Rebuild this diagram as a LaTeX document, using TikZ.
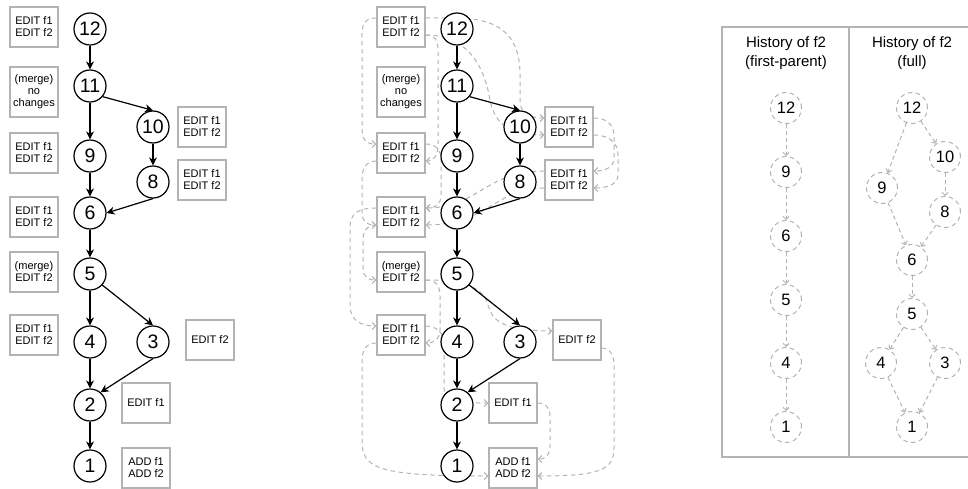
\documentclass[tikz,border=0pt]{standalone}
\usepackage{fontspec}
\setmainfont{Liberation Sans}
\usetikzlibrary{arrows.meta,backgrounds}
\definecolor{lgray}{HTML}{B3B3B3}
\newcommand{\commitgraph}[2]{%
 \begin{scope}[xshift=#2pt]
  \node[commit] (#1n12) at (90,29) {12};
  \node[commit] (#1n11) at (90,86) {11};
  \node[commit] (#1n10) at (153,127) {10};
  \node[commit] (#1n9) at (90,156) {9};
  \node[commit] (#1n8) at (153,182) {8};
  \node[commit] (#1n6) at (90,213) {6};
  \node[commit] (#1n5) at (90,274) {5};
  \node[commit] (#1n4) at (90,342) {4};
  \node[commit] (#1n3) at (153,342) {3};
  \node[commit] (#1n2) at (90,405) {2};
  \node[commit] (#1n1) at (90,466) {1};
  \node[info] (#1b12) at (34,27) {EDIT f1\\EDIT f2};
  \node[info,minimum height=50pt] (#1b11) at (34,92) {(merge)\\no\\changes};
  \node[info] (#1b10) at (202,127) {EDIT f1\\EDIT f2};
  \node[info] (#1b9) at (34,153) {EDIT f1\\EDIT f2};
  \node[info] (#1b8) at (202,180) {EDIT f1\\EDIT f2};
  \node[info] (#1b6) at (34,217) {EDIT f1\\EDIT f2};
  \node[info] (#1b5) at (34,272) {(merge)\\EDIT f2};
  \node[info] (#1b4) at (34,335) {EDIT f1\\EDIT f2};
  \node[info] (#1b3) at (210,340) {EDIT f2};
  \node[info] (#1b2) at (146,403) {EDIT f1};
  \node[info] (#1b1) at (146,468) {ADD f1\\ADD f2};
  \draw[flow] (#1n12) -- (#1n11);
  \draw[flow] (#1n11) -- (#1n9);
  \draw[flow] (#1n11.-40) -- (#1n10.north);
  \draw[flow] (#1n10) -- (#1n8);
  \draw[flow] (#1n9) -- (#1n6);
  \draw[flow] (#1n8.south) -- (#1n6.east);
  \draw[flow] (#1n6) -- (#1n5);
  \draw[flow] (#1n5) -- (#1n4);
  \draw[flow] (#1n5.-42) -- (#1n3.north);
  \draw[flow] (#1n4) -- (#1n2);
  \draw[flow] (#1n3.south) -- (#1n2.50);
  \draw[flow] (#1n2) -- (#1n1);
 \end{scope}}
\begin{document}
\begin{tikzpicture}[x=1pt,y=-1pt,
  commit/.style={circle,draw=black,line width=1.2pt,fill=white,minimum size=32pt,inner sep=0pt,font=\fontsize{19.5}{19.5}\selectfont},
  info/.style={draw=lgray,line width=1.3pt,fill=white,minimum width=48pt,minimum height=40pt,inner sep=0pt,align=center,font=\fontsize{11}{12}\selectfont},
  flow/.style={-{Stealth[length=8pt,width=8pt,inset=2.5pt]},line width=1.2pt},
  link/.style={draw=lgray,dash pattern=on 4.5pt off 3.5pt,line width=1pt,-{Straight Barb[length=3.5pt,width=7pt]}},
  hist/.style={circle,draw=lgray,dash pattern=on 4.5pt off 3.5pt,line width=1pt,fill=white,minimum size=31pt,inner sep=0pt,font=\fontsize{16.5}{16.5}\selectfont},
  hlink/.style={draw=lgray,dash pattern=on 4pt off 3pt,line width=1pt,-{Straight Barb[length=3pt,width=6pt]}},
  hdr/.style={align=center,font=\fontsize{15}{19}\selectfont,inner sep=0pt}]
\useasboundingbox (0,0) rectangle (968,489);
\commitgraph{l}{0}
\commitgraph{m}{367}
\begin{scope}[on background layer]
 % A
 \draw[link] ([yshift=9pt]mb12.west) .. controls (360,18) and (362,30) .. (362,45) -- (362,128) .. controls (362,140) and (366,144) .. ([yshift=9pt]mb9.west);
 % B
 \draw[link] ([yshift=9pt]mb12.east) -- (455,18) .. controls (505,18) and (520,40) .. (520,75) -- (520,100) .. controls (520,112) and (527,118) .. ([yshift=9pt]mb10.west);
 % C
 \draw[link] ([yshift=-8pt]mb12.east) .. controls (435,35) and (438,40) .. (438,50) -- (438,145) .. controls (438,155) and (434,161) .. ([yshift=-8pt]mb9.east);
 % D
 \draw[link] ([yshift=-8pt]mb12.east) .. controls (470,35) and (485,70) .. (490,100) .. controls (495,125) and (510,135) .. ([yshift=-8pt]mb10.west);
 % E
 \draw[link] ([yshift=9pt]mb9.east) .. controls (436,144) and (441,150) .. (441,160) -- (441,195) .. controls (441,204) and (436,208) .. ([yshift=9pt]mb6.east);
 % F
 \draw[link] ([yshift=-8pt]mb9.west) .. controls (366,161) and (362,168) .. (362,180) -- (362,212) .. controls (362,221) and (366,225) .. ([yshift=-8pt]mb6.west);
 % G
 \draw[link] ([yshift=9pt]mb10.east) .. controls (606,118) and (614,124) .. (614,136) -- (614,158) .. controls (614,167) and (606,171) .. ([yshift=9pt]mb8.east);
 % H
 \draw[link] ([yshift=-8pt]mb10.east) .. controls (608,135) and (618,142) .. (618,155) -- (618,175) .. controls (618,184) and (608,188) .. ([yshift=-8pt]mb8.east);
 % I
 \draw[link] ([yshift=9pt]mb8.west) .. controls (485,171) and (478,208) .. ([yshift=9pt]mb6.east);
 % J
 \draw[link] ([yshift=-8pt]mb8.west) .. controls (495,188) and (488,225) .. ([yshift=-8pt]mb6.east);
 % K
 \draw[link] ([yshift=9pt]mb6.west) .. controls (357,208) and (350,214) .. (350,228) -- (350,305) .. controls (350,320) and (360,326) .. ([yshift=9pt]mb4.west);
 % L
 \draw[link] ([yshift=-8pt]mb6.west) .. controls (367,225) and (363,231) .. (363,240) -- (363,268) .. controls (363,276) and (367,280) .. ([yshift=-8pt]mb5.west);
 % M
 \draw[link] ([yshift=-8pt]mb5.east) .. controls (436,280) and (440,286) .. (440,296) -- (440,330) .. controls (440,338) and (435,343) .. ([yshift=-8pt]mb4.east);
 % N
 \draw[link] ([yshift=9pt]mb4.east) .. controls (437,326) and (444,333) .. (444,345) -- (444,388) .. controls (444,400) and (455,403) .. (mb2.west);
 % O
 \draw[link] ([yshift=-8pt]mb5.east) .. controls (470,280) and (484,290) .. (488,305) .. controls (492,320) and (502,331) .. ([yshift=9pt]mb3.west);
 % P
 \draw[link] ([yshift=-8pt]mb4.west) .. controls (366,343) and (362,350) .. (362,362) -- (362,440) .. controls (362,468) and (375,476) .. ([yshift=-8pt]mb1.west);
 % Q
 \draw[link] ([yshift=-8pt]mb3.east) .. controls (610,348) and (614,355) .. (614,365) -- (614,448) .. controls (614,470) and (600,476) .. ([yshift=-8pt]mb1.east);
 % R
 \draw[link] (mb2.east) .. controls (546,403) and (550,408) .. (550,416) -- (550,446) .. controls (550,455) and (546,459) .. ([yshift=9pt]mb1.east);
\end{scope}
% history table
\draw[lgray,line width=1.3pt] (968,27) -- (722,27) -- (722,457) -- (968,457);
\draw[lgray,line width=1.3pt] (849,27) -- (849,457);
\node[hdr] (h1) at (786,53) {History of f2\\(first-parent)};
\node[hdr] (h2) at (912,53) {History of f2\\(full)};
\node[hist] (p12) at (786,108) {12};
\node[hist] (p9) at (786,172) {9};
\node[hist] (p6) at (786,236) {6};
\node[hist] (p5) at (786,300) {5};
\node[hist] (p4) at (786,363) {4};
\node[hist] (p1) at (786,427) {1};
\node[hist] (q12) at (912,108) {12};
\node[hist] (q10) at (945,157) {10};
\node[hist] (q9) at (882,188) {9};
\node[hist] (q8) at (945,212) {8};
\node[hist] (q6) at (912,260) {6};
\node[hist] (q5) at (912,314) {5};
\node[hist] (q4) at (881,363) {4};
\node[hist] (q3) at (945,363) {3};
\node[hist] (q1) at (912,427) {1};
\draw[hlink] (p12) -- (p9);
\draw[hlink] (p9) -- (p6);
\draw[hlink] (p6) -- (p5);
\draw[hlink] (p5) -- (p4);
\draw[hlink] (p4) -- (p1);
\draw[hlink] (q12) -- (q10);
\draw[hlink] (q12) -- (q9);
\draw[hlink] (q10) -- (q8);
\draw[hlink] (q9) -- (q6);
\draw[hlink] (q8) -- (q6);
\draw[hlink] (q6) -- (q5);
\draw[hlink] (q5) -- (q4);
\draw[hlink] (q5) -- (q3);
\draw[hlink] (q4) -- (q1);
\draw[hlink] (q3) -- (q1);
\end{tikzpicture}
\end{document}
